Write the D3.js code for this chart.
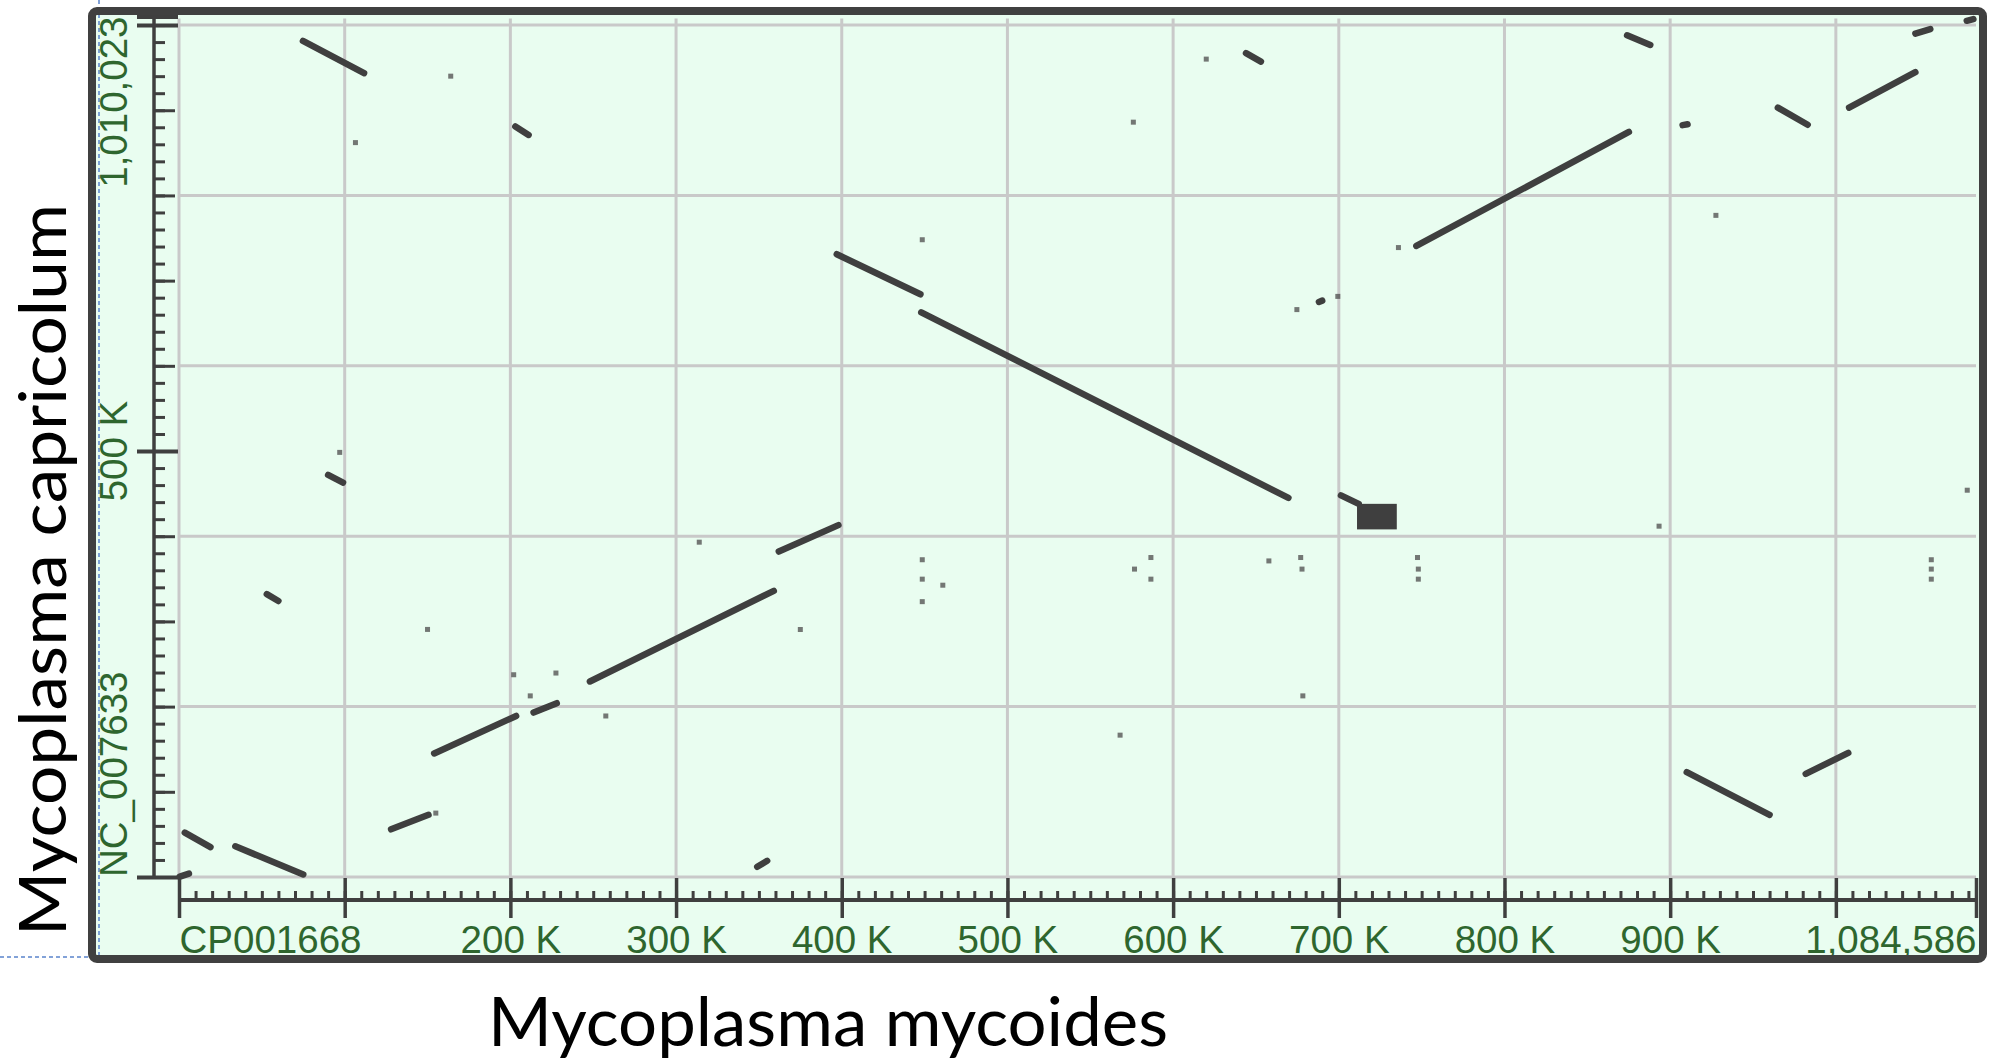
<!DOCTYPE html>
<html>
<head>
<meta charset="utf-8">
<script src="https://cdn.jsdelivr.net/npm/d3@7"></script>
<style>
  html, body { margin: 0; padding: 0; background: #fff; }
  svg { display: block; }
</style>
</head>
<body>
<svg id="chart" width="1994" height="1061"></svg>
<script>
// sequence lengths in kb
const xLength = 1084.586
const yLength = 1010.023
const xTitle = 'Mycoplasma mycoides'
const yTitle = 'Mycoplasma capricolum'

// labelled x ticks (kb) and their labels ('' = long tick without label)
const xMajorTicks = [0, 100, 200, 300, 400, 500, 600, 700, 800, 900, 1000, 1084.586]
const xTickLabels = ['CP001668', '', '200 K', '300 K', '400 K', '500 K', '600 K', '700 K', '800 K', '900 K', '', '1,084,586']
const yLabelTicks = [0, 500, 1010.023]
const yTickLabels = ['NC_007633', '500 K', '1,010,023']

// aligned segments [x1, y1, x2, y2] in kb
const segments = [
  [74.8, 981.3, 111.7, 943.5],
  [203, 881, 211, 871],
  [644, 967, 653, 957],
  [397, 731, 447.5, 684],
  [448, 662.8, 669.6, 445],
  [688, 675, 690, 676.5],
  [746.8, 740.7, 875.1, 874.5],
  [874, 988, 888, 976.6],
  [965, 903, 983, 883],
  [1008, 903, 1048, 944.6],
  [1048, 990, 1057, 995.3],
  [1079, 1005, 1083, 1007],
  [907.5, 882.5, 910.5, 883.5],
  [90, 472, 99, 463],
  [53, 332, 60, 324],
  [154, 145, 203.5, 189],
  [214, 193, 228, 204],
  [248, 229.5, 359, 335.8],
  [362, 382, 398, 413],
  [128, 56, 150.6, 73],
  [3.5, 52, 19, 35],
  [34, 36, 75, 3],
  [0.5, 0.5, 6, 4],
  [349, 12, 355, 19],
  [701.3, 448, 712, 438],
  [910, 123, 960, 73],
  [981.8, 121, 1007.5, 145.7]
]

// dense repeat block [x1, y1, x2, y2] in kb
const blocks = [
  [711, 408, 735, 438]
]

// isolated short hits [x, y] in kb
const dots = [
  [164, 940], [106.5, 862], [620, 960], [576, 886], [448.6, 748],
  [674.7, 666], [699.4, 681.5], [736, 738.8], [927.6, 776.6],
  [97, 498.4], [150, 290.6], [202, 237.4], [227.5, 239.4], [212, 212.6],
  [257.6, 189], [314, 393], [155, 75],
  [448.6, 372.4], [448.6, 349.6], [448.6, 323.2], [461, 342.5], [375, 290.5],
  [586.6, 375], [576.7, 361.4], [586.6, 349.6], [657.8, 371], [677, 375],
  [677.8, 361.4], [678.3, 212.6], [568, 166.5],
  [747.5, 375], [748, 361.4], [748, 349.6], [893.3, 411.8],
  [1057.6, 372.4], [1057.6, 361.4], [1057.6, 349.6], [1079.3, 454]
]

const svg = d3.select('#chart')
const ink = '#3f3f3f'
const labelColor = '#2e662e'

const x = d3.scaleLinear().domain([0, xLength]).range([179, 1976])
const y = d3.scaleLinear().domain([0, yLength]).range([877, 16.5])

// panel background
svg.append('rect')
  .attr('x', 92).attr('y', 11)
  .attr('width', 1891).attr('height', 948)
  .attr('rx', 5)
  .attr('fill', '#e9fdf0')

// dashed guide lines of the original screenshot
svg.append('line')
  .attr('x1', 99).attr('x2', 99).attr('y1', 0).attr('y2', 957)
  .attr('stroke', '#5a84cc').attr('stroke-width', 1.5).attr('stroke-dasharray', '4,3')
svg.append('line')
  .attr('x1', 0).attr('x2', 97).attr('y1', 957).attr('y2', 957)
  .attr('stroke', '#5a84cc').attr('stroke-width', 1.5).attr('stroke-dasharray', '4,3')

// grid
const grid = svg.append('g').attr('stroke', '#c9c9c9').attr('stroke-width', 3)
grid.selectAll('.vg')
  .data(d3.range(0, 1001, 100))
  .join('line')
  .attr('x1', d => x(d)).attr('x2', d => x(d))
  .attr('y1', y(yLength) + 2).attr('y2', y(0))
grid.selectAll('.hg')
  .data(d3.range(0, 1001, 200))
  .join('line')
  .attr('y1', d => y(d)).attr('y2', d => y(d))
  .attr('x1', x(0)).attr('x2', x(xLength))

// x axis: minor ticks every 10 kb, long ticks every 100 kb
const xAxisY = 900
svg.append('g')
  .attr('transform', `translate(0, ${xAxisY})`)
  .call(d3.axisBottom(x).tickValues(d3.range(0, xLength, 10)).tickSize(-9).tickSizeOuter(0).tickFormat(''))
  .call(g => g.select('.domain').remove())
  .call(g => g.selectAll('line').attr('stroke', ink).attr('stroke-width', 3))

const xMajor = svg.append('g')
  .attr('transform', `translate(0, ${xAxisY})`)
  .call(d3.axisBottom(x).tickValues(xMajorTicks).tickSize(18).tickSizeOuter(0)
    .tickFormat((d, i) => xTickLabels[i]))
xMajor.select('.domain').attr('stroke', ink).attr('stroke-width', 4).attr('d', `M${x(0)},0H${x(xLength)}`)
xMajor.selectAll('line').attr('stroke', ink).attr('stroke-width', 3.5).attr('y1', -22)
xMajor.selectAll('text')
  .attr('y', 53).attr('dy', null)
  .attr('fill', labelColor)
  .attr('font-family', '"Liberation Sans", Arial, sans-serif')
  .attr('font-size', 38.5)
  .attr('text-anchor', (d, i) => i === 0 ? 'start' : (i === xMajorTicks.length - 1 ? 'end' : 'middle'))

// y axis: minor ticks every 20 kb, medium every 100 kb, long at labels
const yAxisX = 154
svg.append('g')
  .attr('transform', `translate(${yAxisX}, 0)`)
  .call(d3.axisRight(y).tickValues(d3.range(0, yLength, 20)).tickSize(11).tickSizeOuter(0).tickFormat(''))
  .call(g => g.select('.domain').remove())
  .call(g => g.selectAll('line').attr('stroke', ink).attr('stroke-width', 3))
svg.append('g')
  .attr('transform', `translate(${yAxisX}, 0)`)
  .call(d3.axisRight(y).tickValues(d3.range(0, yLength, 100)).tickSize(21).tickSizeOuter(0).tickFormat(''))
  .call(g => g.select('.domain').remove())
  .call(g => g.selectAll('line').attr('stroke', ink).attr('stroke-width', 3))

const yMajor = svg.append('g')
  .attr('transform', `translate(${yAxisX}, 0)`)
  .call(d3.axisRight(y).tickValues([0, 500, 1000, yLength]).tickSize(24).tickSizeOuter(0).tickFormat(''))
yMajor.select('.domain').attr('stroke', ink).attr('stroke-width', 3.5).attr('d', `M0,${y(yLength)}V${y(0)}`)
yMajor.selectAll('line').attr('stroke', ink).attr('stroke-width', 4).attr('x1', -17)

svg.append('g')
  .selectAll('text')
  .data(yLabelTicks)
  .join('text')
  .attr('transform', d => `translate(127, ${y(d)}) rotate(-90)`)
  .attr('text-anchor', (d, i) => i === 0 ? 'start' : (i === yLabelTicks.length - 1 ? 'end' : 'middle'))
  .attr('fill', labelColor)
  .attr('font-family', '"Liberation Sans", Arial, sans-serif')
  .attr('font-size', 38.5)
  .text((d, i) => yTickLabels[i])

// dot plot hits
const plot = svg.append('g')
plot.selectAll('rect.block')
  .data(blocks)
  .join('rect')
  .attr('class', 'block')
  .attr('x', d => x(d[0])).attr('y', d => y(d[3]))
  .attr('width', d => x(d[2]) - x(d[0])).attr('height', d => y(d[1]) - y(d[3]))
  .attr('fill', ink)

plot.selectAll('line.seg')
  .data(segments)
  .join('line')
  .attr('class', 'seg')
  .attr('x1', d => x(d[0])).attr('y1', d => y(d[1]))
  .attr('x2', d => x(d[2])).attr('y2', d => y(d[3]))
  .attr('stroke', ink)
  .attr('stroke-width', 6.5)
  .attr('stroke-linecap', 'round')

plot.selectAll('rect.dot')
  .data(dots)
  .join('rect')
  .attr('class', 'dot')
  .attr('x', d => x(d[0]) - 2.5).attr('y', d => y(d[1]) - 2.5)
  .attr('width', 5).attr('height', 5)
  .attr('fill', '#555')
  .attr('opacity', 0.8)

// panel frame
svg.append('rect')
  .attr('x', 92).attr('y', 11)
  .attr('width', 1891).attr('height', 948)
  .attr('rx', 5)
  .attr('fill', 'none')
  .attr('stroke', '#404040')
  .attr('stroke-width', 8)

// axis titles
svg.append('text')
  .attr('x', 828).attr('y', 1046)
  .attr('text-anchor', 'middle')
  .attr('font-family', 'Lato, sans-serif')
  .attr('font-size', 68)
  .attr('textLength', 680)
  .attr('lengthAdjust', 'spacingAndGlyphs')
  .attr('fill', '#000')
  .text(xTitle)

svg.append('text')
  .attr('transform', 'translate(66, 570) rotate(-90)')
  .attr('text-anchor', 'middle')
  .attr('font-family', 'Lato, sans-serif')
  .attr('font-size', 66)
  .attr('textLength', 732)
  .attr('lengthAdjust', 'spacingAndGlyphs')
  .attr('fill', '#000')
  .text(yTitle)
</script>
</body>
</html>
